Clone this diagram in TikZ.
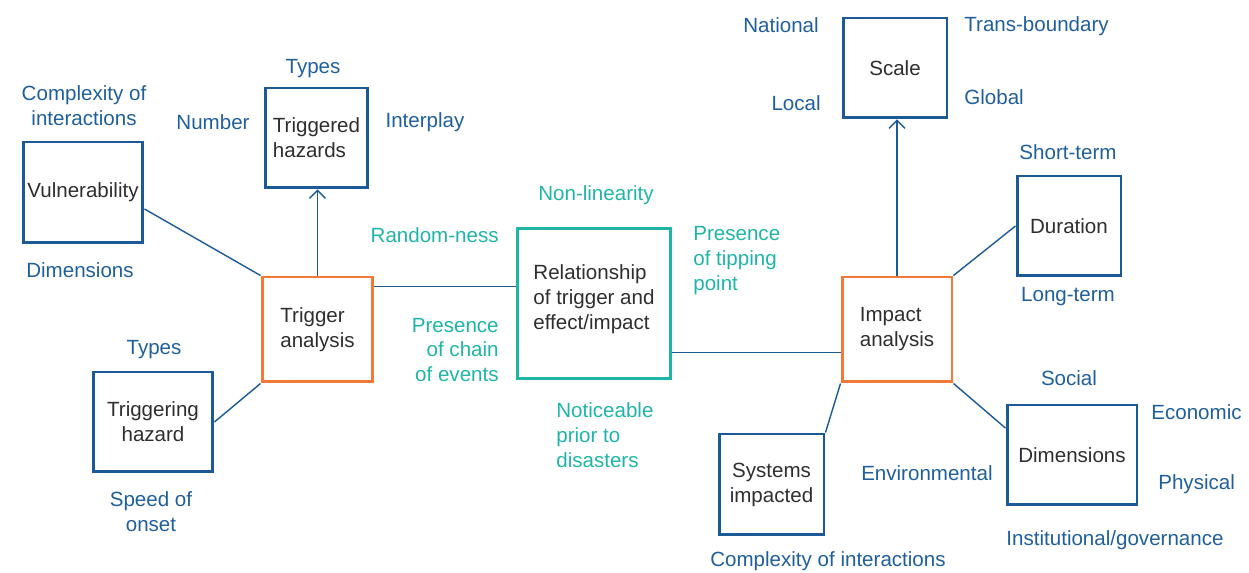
\documentclass[tikz,border=0pt]{standalone}
\usepackage{fontspec}
\setmainfont{Liberation Sans}
\usetikzlibrary{arrows.meta}

\definecolor{boxblue}{HTML}{1B5A96}
\definecolor{lblblue}{HTML}{1F5F9C}
\definecolor{tealc}{HTML}{1FB5A6}
\definecolor{orangec}{HTML}{F3793B}
\definecolor{txtgrey}{HTML}{2E2E2E}

\tikzset{
    box/.style={draw=boxblue, line width=1.7pt, text=txtgrey, align=center, inner sep=0pt},
    hub/.style={box, draw=orangec, align=left},
    relbox/.style={box, draw=tealc, align=left},
    blab/.style={text=lblblue, align=center, inner sep=0pt},
    tlab/.style={text=tealc, align=center, inner sep=0pt},
    link/.style={draw=boxblue, line width=0.8pt},
    toarrow/.style={link, -{Straight Barb[length=4.5pt,width=9pt]}},
}

\begin{document}
\begin{tikzpicture}[x=0.02cm, y=-0.02cm, font=\fontsize{11.7}{14.2}\selectfont]
    \useasboundingbox (0,0) rectangle (1249,573);
    % boxes
    \node[box, minimum width=2.4cm, minimum height=2.02cm] (vul) at (83,192.5) {Vulnerability};
    \node[box, align=left, minimum width=2.06cm, minimum height=2cm] (trgd) at (316.5,138) {Triggered\\hazards};
    \node[hub, minimum width=2.22cm, minimum height=2.1cm] (trig) at (317.5,329.5) {Trigger\\analysis};
    \node[box, minimum width=2.4cm, minimum height=2cm] (trgh) at (153,422) {Triggering\\hazard};
    \node[relbox, minimum width=3.08cm, minimum height=3.02cm] (rel) at (594,303.5) {Relationship\\of trigger and\\effect/impact\\[-0.6em]};
    \node[box, minimum width=2.08cm, minimum height=2cm] (scale) at (895,68) {Scale};
    \node[box, minimum width=2.08cm, minimum height=2cm] (dur) at (1069,226) {Duration};
    \node[hub, minimum width=2.2cm, minimum height=2.1cm] (imp) at (897,329.5) {Impact\\analysis};
    \node[box, minimum width=2.6cm, minimum height=2cm] (dim) at (1072,455) {Dimensions};
    \node[box, minimum width=2.1cm, minimum height=2.02cm] (sys) at (771.5,484.5) {Systems\\impacted};

    % connectors
    \draw[link] (vul.-15) -- (trig.north west);
    \draw[toarrow] (trig.north) -- (trig.north |- trgd.south);
    \draw[link] (trig.south west) -- (trgh.east);
    \draw[link] (trig.37) -- (trig.37 -| rel.west);
    \draw[link] (rel.-32) -- (rel.-32 -| imp.west);
    \draw[toarrow] (imp.north) -- (imp.north |- scale.south);
    \draw[link] (imp.north east) -- (dur.west);
    \draw[link] (imp.south west) -- (sys.north east);
    \draw[link] (imp.south east) -- (dim.158);

    % blue labels
    \node[blab] (l1) at (84,106) {Complexity of\\interactions};
    \node[blab] (l2) at (80,270) {Dimensions};
    \node[blab] (l3) at (313,69) {Types};
    \node[blab] (l4) at (213,122) {Number};
    \node[blab] (l5) at (425,122) {Interplay};
    \node[blab] (l6) at (154,350) {Types};
    \node[blab] (l7) at (151,512) {Speed of\\onset};
    \node[blab] (l8) at (781,25) {National};
    \node[blab, anchor=west] (l9) at (964,26) {Trans-boundary};
    \node[blab, anchor=east] (l10) at (821,103) {Local};
    \node[blab, anchor=west] (l11) at (964,97) {Global};
    \node[blab] (l12) at (1068,152) {Short-term};
    \node[blab] (l13) at (1068,297) {Long-term};
    \node[blab] (l14) at (1069,378) {Social};
    \node[blab, anchor=west] (l15) at (1151,412) {Economic};
    \node[blab, anchor=west] (l16) at (1158,484) {Physical};
    \node[blab, anchor=east] (l17) at (993,473) {Environmental};
    \node[blab] (l18) at (1115,540) {Institutional/governance};
    \node[blab] (l19) at (828,561) {Complexity of interactions};

    % teal labels
    \node[tlab] (t1) at (596,195) {Non-linearity};
    \node[tlab, anchor=east] (t2) at (499,235) {Random-ness};
    \node[tlab, align=left, anchor=west] (t3) at (693,261) {Presence\\of tipping\\point};
    \node[tlab, align=right, anchor=east] (t4) at (499,350) {Presence\\of chain\\of events};
    \node[tlab, align=left, anchor=west] (t5) at (556,435) {Noticeable\\prior to\\disasters};
\end{tikzpicture}
\end{document}
